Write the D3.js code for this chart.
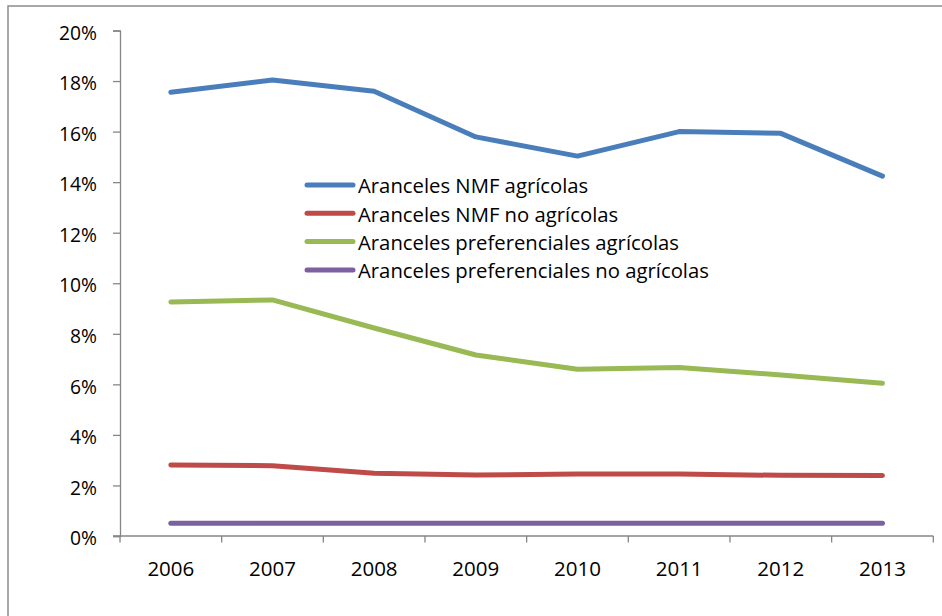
<!DOCTYPE html>
<html>
<head>
<meta charset="utf-8">
<script src="https://cdn.jsdelivr.net/npm/d3@7"></script>
<style>
  html, body { margin: 0; padding: 0; background: #fff; }
  svg { display: block; font-family: "Open Sans", "Liberation Sans", sans-serif; }
</style>
</head>
<body>
<svg id="chart" width="942" height="616"></svg>
<script>
// Años del eje horizontal
const years = ["2006", "2007", "2008", "2009", "2010", "2011", "2012", "2013"];

// Aranceles medios (%)
const nmfAgricolas = [17.56, 18.04, 17.6, 15.79, 15.03, 16.0, 15.93, 14.24];
const nmfNoAgricolas = [2.81, 2.78, 2.48, 2.41, 2.45, 2.45, 2.40, 2.39];
const prefAgricolas = [9.26, 9.34, 8.23, 7.16, 6.6, 6.67, 6.37, 6.04];
const prefNoAgricolas = [0.5, 0.5, 0.5, 0.5, 0.5, 0.5, 0.5, 0.5];

const seriesNames = [
  "Aranceles NMF agrícolas",
  "Aranceles NMF no agrícolas",
  "Aranceles preferenciales agrícolas",
  "Aranceles preferenciales no agrícolas"
];
const seriesValues = [nmfAgricolas, nmfNoAgricolas, prefAgricolas, prefNoAgricolas];
const seriesColors = ["#4a7ebb", "#be4b48", "#98b954", "#7d60a0"];

const yTicks = [0, 2, 4, 6, 8, 10, 12, 14, 16, 18, 20];

const svg = d3.select("#chart");

// Marco exterior
svg.append("rect")
  .attr("x", 8).attr("y", 6)
  .attr("width", 960).attr("height", 640)
  .attr("fill", "none")
  .attr("stroke", "#8c8c8c")
  .attr("stroke-width", 1.5);

const plot = { left: 120, right: 933.3, top: 30.5, bottom: 536 };

const x = d3.scaleBand()
  .domain(years)
  .range([plot.left, plot.right]);

const y = d3.scaleLinear()
  .domain([0, 20])
  .range([plot.bottom, plot.top]);

const axisColor = "#868686";

// Eje vertical
const yAxis = svg.append("g")
  .attr("transform", `translate(${plot.left},0)`)
  .call(d3.axisLeft(y).tickValues(yTicks).tickSize(7).tickPadding(16)
    .tickFormat(d => d + "%"));
yAxis.select(".domain").attr("stroke", axisColor).attr("stroke-width", 1.3);
yAxis.selectAll(".tick line").attr("stroke", axisColor).attr("stroke-width", 1.3);
yAxis.selectAll(".tick text")
  .attr("fill", "#000")
  .attr("font-size", 19.3)
  .attr("font-family", "'Open Sans', sans-serif")
  .attr("dy", "0.45em");

// Eje horizontal con marcas entre categorías
const xAxisG = svg.append("g")
  .attr("transform", `translate(0,${plot.bottom})`);
xAxisG.append("line")
  .attr("x1", plot.left - 7).attr("x2", plot.right)
  .attr("stroke", axisColor).attr("stroke-width", 1.3);
const boundaries = years.map(d => x(d)).concat([x(years[years.length - 1]) + x.bandwidth()]);
xAxisG.selectAll("line.tick")
  .data(boundaries)
  .join("line")
  .attr("class", "tick")
  .attr("x1", d => d).attr("x2", d => d)
  .attr("y1", 0).attr("y2", 6.5)
  .attr("stroke", axisColor).attr("stroke-width", 1.3);
xAxisG.selectAll("text")
  .data(years)
  .join("text")
  .attr("x", d => x(d) + x.bandwidth() / 2)
  .attr("y", 40)
  .attr("text-anchor", "middle")
  .attr("font-size", 20.5)
  .attr("fill", "#000")
  .text(d => d);

// Líneas de las series
const line = d3.line()
  .x((d, i) => x(years[i]) + x.bandwidth() / 2)
  .y(d => y(d));

svg.append("g")
  .selectAll("path")
  .data(seriesValues)
  .join("path")
  .attr("d", line)
  .attr("fill", "none")
  .attr("stroke", (d, i) => seriesColors[i])
  .attr("stroke-width", 5)
  .attr("stroke-linecap", "round")
  .attr("stroke-linejoin", "round");

// Leyenda
const legend = svg.append("g");
const legendRows = legend.selectAll("g")
  .data(seriesNames)
  .join("g")
  .attr("transform", (d, i) => `translate(307,${185 + i * 28.3})`);
legendRows.append("line")
  .attr("x1", 0).attr("x2", 46)
  .attr("stroke", (d, i) => seriesColors[i])
  .attr("stroke-width", 5)
  .attr("stroke-linecap", "round");
legendRows.append("text")
  .attr("x", 51)
  .attr("y", 8.3)
  .attr("font-size", 20.3)
  .attr("fill", "#000")
  .text(d => d);
</script>
</body>
</html>
